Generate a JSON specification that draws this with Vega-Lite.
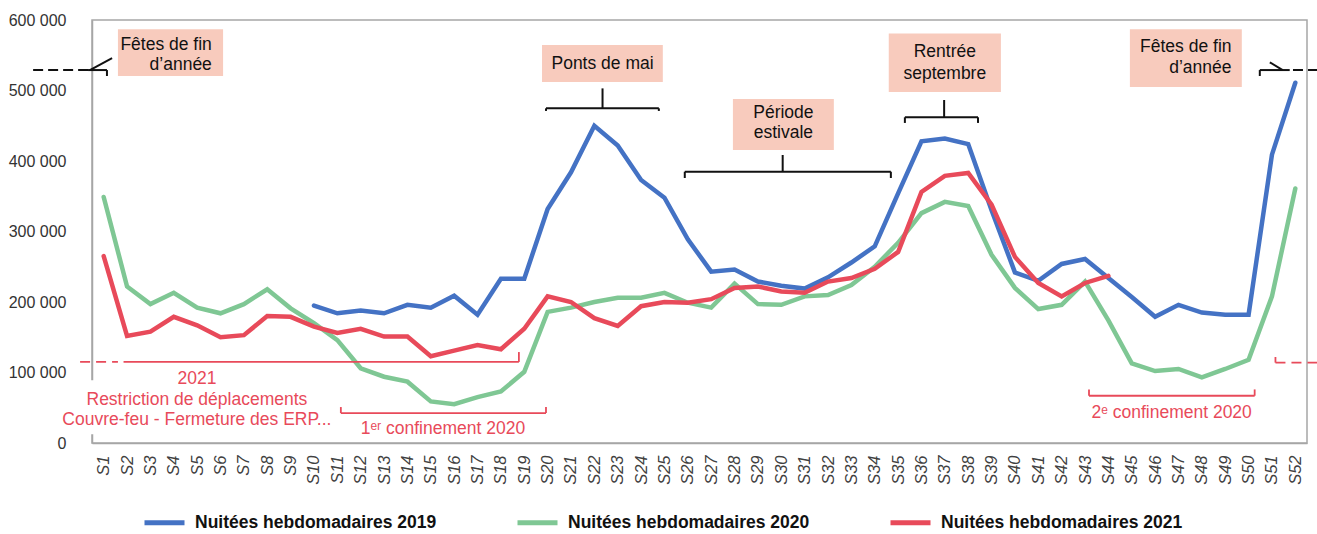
{
  "$schema": "https://vega.github.io/schema/vega-lite/v6.json",
  "width": 1215,
  "height": 423,
  "autosize": {"type": "none"},
  "padding": {"left": 92, "top": 20, "right": 10, "bottom": 91},
  "background": "white",
  "config": {
    "font": "Liberation Sans",
    "view": {"stroke": "#A6A6A6", "strokeWidth": 1.5}
  },
  "datasets": {
    "series": [
      {"week": 10, "serie": "Nuitées hebdomadaires 2019", "value": 195000},
      {"week": 11, "serie": "Nuitées hebdomadaires 2019", "value": 184000},
      {"week": 12, "serie": "Nuitées hebdomadaires 2019", "value": 188000},
      {"week": 13, "serie": "Nuitées hebdomadaires 2019", "value": 184000},
      {"week": 14, "serie": "Nuitées hebdomadaires 2019", "value": 196000},
      {"week": 15, "serie": "Nuitées hebdomadaires 2019", "value": 192000},
      {"week": 16, "serie": "Nuitées hebdomadaires 2019", "value": 209000},
      {"week": 17, "serie": "Nuitées hebdomadaires 2019", "value": 182000},
      {"week": 18, "serie": "Nuitées hebdomadaires 2019", "value": 233000},
      {"week": 19, "serie": "Nuitées hebdomadaires 2019", "value": 233000},
      {"week": 20, "serie": "Nuitées hebdomadaires 2019", "value": 332000},
      {"week": 21, "serie": "Nuitées hebdomadaires 2019", "value": 384000},
      {"week": 22, "serie": "Nuitées hebdomadaires 2019", "value": 450000},
      {"week": 23, "serie": "Nuitées hebdomadaires 2019", "value": 422000},
      {"week": 24, "serie": "Nuitées hebdomadaires 2019", "value": 373000},
      {"week": 25, "serie": "Nuitées hebdomadaires 2019", "value": 348000},
      {"week": 26, "serie": "Nuitées hebdomadaires 2019", "value": 289000},
      {"week": 27, "serie": "Nuitées hebdomadaires 2019", "value": 243000},
      {"week": 28, "serie": "Nuitées hebdomadaires 2019", "value": 246000},
      {"week": 29, "serie": "Nuitées hebdomadaires 2019", "value": 229000},
      {"week": 30, "serie": "Nuitées hebdomadaires 2019", "value": 223000},
      {"week": 31, "serie": "Nuitées hebdomadaires 2019", "value": 219000},
      {"week": 32, "serie": "Nuitées hebdomadaires 2019", "value": 235000},
      {"week": 33, "serie": "Nuitées hebdomadaires 2019", "value": 256000},
      {"week": 34, "serie": "Nuitées hebdomadaires 2019", "value": 279000},
      {"week": 35, "serie": "Nuitées hebdomadaires 2019", "value": 354000},
      {"week": 36, "serie": "Nuitées hebdomadaires 2019", "value": 428000},
      {"week": 37, "serie": "Nuitées hebdomadaires 2019", "value": 432000},
      {"week": 38, "serie": "Nuitées hebdomadaires 2019", "value": 424000},
      {"week": 39, "serie": "Nuitées hebdomadaires 2019", "value": 330000},
      {"week": 40, "serie": "Nuitées hebdomadaires 2019", "value": 242000},
      {"week": 41, "serie": "Nuitées hebdomadaires 2019", "value": 230000},
      {"week": 42, "serie": "Nuitées hebdomadaires 2019", "value": 254000},
      {"week": 43, "serie": "Nuitées hebdomadaires 2019", "value": 261000},
      {"week": 44, "serie": "Nuitées hebdomadaires 2019", "value": 234000},
      {"week": 45, "serie": "Nuitées hebdomadaires 2019", "value": 207000},
      {"week": 46, "serie": "Nuitées hebdomadaires 2019", "value": 179000},
      {"week": 47, "serie": "Nuitées hebdomadaires 2019", "value": 196000},
      {"week": 48, "serie": "Nuitées hebdomadaires 2019", "value": 185000},
      {"week": 49, "serie": "Nuitées hebdomadaires 2019", "value": 182000},
      {"week": 50, "serie": "Nuitées hebdomadaires 2019", "value": 182000},
      {"week": 51, "serie": "Nuitées hebdomadaires 2019", "value": 409000},
      {"week": 52, "serie": "Nuitées hebdomadaires 2019", "value": 511000},
      {"week": 1, "serie": "Nuitées hebdomadaires 2020", "value": 349000},
      {"week": 2, "serie": "Nuitées hebdomadaires 2020", "value": 222000},
      {"week": 3, "serie": "Nuitées hebdomadaires 2020", "value": 197000},
      {"week": 4, "serie": "Nuitées hebdomadaires 2020", "value": 213000},
      {"week": 5, "serie": "Nuitées hebdomadaires 2020", "value": 192000},
      {"week": 6, "serie": "Nuitées hebdomadaires 2020", "value": 184000},
      {"week": 7, "serie": "Nuitées hebdomadaires 2020", "value": 197000},
      {"week": 8, "serie": "Nuitées hebdomadaires 2020", "value": 218000},
      {"week": 9, "serie": "Nuitées hebdomadaires 2020", "value": 191000},
      {"week": 10, "serie": "Nuitées hebdomadaires 2020", "value": 170000},
      {"week": 11, "serie": "Nuitées hebdomadaires 2020", "value": 146000},
      {"week": 12, "serie": "Nuitées hebdomadaires 2020", "value": 106000},
      {"week": 13, "serie": "Nuitées hebdomadaires 2020", "value": 94000},
      {"week": 14, "serie": "Nuitées hebdomadaires 2020", "value": 87000},
      {"week": 15, "serie": "Nuitées hebdomadaires 2020", "value": 59000},
      {"week": 16, "serie": "Nuitées hebdomadaires 2020", "value": 55000},
      {"week": 17, "serie": "Nuitées hebdomadaires 2020", "value": 65000},
      {"week": 18, "serie": "Nuitées hebdomadaires 2020", "value": 73000},
      {"week": 19, "serie": "Nuitées hebdomadaires 2020", "value": 101000},
      {"week": 20, "serie": "Nuitées hebdomadaires 2020", "value": 186000},
      {"week": 21, "serie": "Nuitées hebdomadaires 2020", "value": 192000},
      {"week": 22, "serie": "Nuitées hebdomadaires 2020", "value": 200000},
      {"week": 23, "serie": "Nuitées hebdomadaires 2020", "value": 206000},
      {"week": 24, "serie": "Nuitées hebdomadaires 2020", "value": 206000},
      {"week": 25, "serie": "Nuitées hebdomadaires 2020", "value": 213000},
      {"week": 26, "serie": "Nuitées hebdomadaires 2020", "value": 199000},
      {"week": 27, "serie": "Nuitées hebdomadaires 2020", "value": 192000},
      {"week": 28, "serie": "Nuitées hebdomadaires 2020", "value": 226000},
      {"week": 29, "serie": "Nuitées hebdomadaires 2020", "value": 197000},
      {"week": 30, "serie": "Nuitées hebdomadaires 2020", "value": 196000},
      {"week": 31, "serie": "Nuitées hebdomadaires 2020", "value": 208000},
      {"week": 32, "serie": "Nuitées hebdomadaires 2020", "value": 210000},
      {"week": 33, "serie": "Nuitées hebdomadaires 2020", "value": 224000},
      {"week": 34, "serie": "Nuitées hebdomadaires 2020", "value": 250000},
      {"week": 35, "serie": "Nuitées hebdomadaires 2020", "value": 284000},
      {"week": 36, "serie": "Nuitées hebdomadaires 2020", "value": 326000},
      {"week": 37, "serie": "Nuitées hebdomadaires 2020", "value": 342000},
      {"week": 38, "serie": "Nuitées hebdomadaires 2020", "value": 336000},
      {"week": 39, "serie": "Nuitées hebdomadaires 2020", "value": 267000},
      {"week": 40, "serie": "Nuitées hebdomadaires 2020", "value": 220000},
      {"week": 41, "serie": "Nuitées hebdomadaires 2020", "value": 190000},
      {"week": 42, "serie": "Nuitées hebdomadaires 2020", "value": 196000},
      {"week": 43, "serie": "Nuitées hebdomadaires 2020", "value": 229000},
      {"week": 44, "serie": "Nuitées hebdomadaires 2020", "value": 174000},
      {"week": 45, "serie": "Nuitées hebdomadaires 2020", "value": 113000},
      {"week": 46, "serie": "Nuitées hebdomadaires 2020", "value": 102000},
      {"week": 47, "serie": "Nuitées hebdomadaires 2020", "value": 105000},
      {"week": 48, "serie": "Nuitées hebdomadaires 2020", "value": 93000},
      {"week": 49, "serie": "Nuitées hebdomadaires 2020", "value": 105000},
      {"week": 50, "serie": "Nuitées hebdomadaires 2020", "value": 118000},
      {"week": 51, "serie": "Nuitées hebdomadaires 2020", "value": 208000},
      {"week": 52, "serie": "Nuitées hebdomadaires 2020", "value": 361000},
      {"week": 1, "serie": "Nuitées hebdomadaires 2021", "value": 265000},
      {"week": 2, "serie": "Nuitées hebdomadaires 2021", "value": 152000},
      {"week": 3, "serie": "Nuitées hebdomadaires 2021", "value": 158000},
      {"week": 4, "serie": "Nuitées hebdomadaires 2021", "value": 179000},
      {"week": 5, "serie": "Nuitées hebdomadaires 2021", "value": 167000},
      {"week": 6, "serie": "Nuitées hebdomadaires 2021", "value": 150000},
      {"week": 7, "serie": "Nuitées hebdomadaires 2021", "value": 153000},
      {"week": 8, "serie": "Nuitées hebdomadaires 2021", "value": 180000},
      {"week": 9, "serie": "Nuitées hebdomadaires 2021", "value": 179000},
      {"week": 10, "serie": "Nuitées hebdomadaires 2021", "value": 165000},
      {"week": 11, "serie": "Nuitées hebdomadaires 2021", "value": 156000},
      {"week": 12, "serie": "Nuitées hebdomadaires 2021", "value": 162000},
      {"week": 13, "serie": "Nuitées hebdomadaires 2021", "value": 151000},
      {"week": 14, "serie": "Nuitées hebdomadaires 2021", "value": 151000},
      {"week": 15, "serie": "Nuitées hebdomadaires 2021", "value": 123000},
      {"week": 16, "serie": "Nuitées hebdomadaires 2021", "value": 131000},
      {"week": 17, "serie": "Nuitées hebdomadaires 2021", "value": 139000},
      {"week": 18, "serie": "Nuitées hebdomadaires 2021", "value": 133000},
      {"week": 19, "serie": "Nuitées hebdomadaires 2021", "value": 162000},
      {"week": 20, "serie": "Nuitées hebdomadaires 2021", "value": 208000},
      {"week": 21, "serie": "Nuitées hebdomadaires 2021", "value": 200000},
      {"week": 22, "serie": "Nuitées hebdomadaires 2021", "value": 177000},
      {"week": 23, "serie": "Nuitées hebdomadaires 2021", "value": 166000},
      {"week": 24, "serie": "Nuitées hebdomadaires 2021", "value": 194000},
      {"week": 25, "serie": "Nuitées hebdomadaires 2021", "value": 200000},
      {"week": 26, "serie": "Nuitées hebdomadaires 2021", "value": 199000},
      {"week": 27, "serie": "Nuitées hebdomadaires 2021", "value": 204000},
      {"week": 28, "serie": "Nuitées hebdomadaires 2021", "value": 220000},
      {"week": 29, "serie": "Nuitées hebdomadaires 2021", "value": 222000},
      {"week": 30, "serie": "Nuitées hebdomadaires 2021", "value": 215000},
      {"week": 31, "serie": "Nuitées hebdomadaires 2021", "value": 213000},
      {"week": 32, "serie": "Nuitées hebdomadaires 2021", "value": 229000},
      {"week": 33, "serie": "Nuitées hebdomadaires 2021", "value": 234000},
      {"week": 34, "serie": "Nuitées hebdomadaires 2021", "value": 247000},
      {"week": 35, "serie": "Nuitées hebdomadaires 2021", "value": 271000},
      {"week": 36, "serie": "Nuitées hebdomadaires 2021", "value": 356000},
      {"week": 37, "serie": "Nuitées hebdomadaires 2021", "value": 379000},
      {"week": 38, "serie": "Nuitées hebdomadaires 2021", "value": 383000},
      {"week": 39, "serie": "Nuitées hebdomadaires 2021", "value": 338000},
      {"week": 40, "serie": "Nuitées hebdomadaires 2021", "value": 264000},
      {"week": 41, "serie": "Nuitées hebdomadaires 2021", "value": 227000},
      {"week": 42, "serie": "Nuitées hebdomadaires 2021", "value": 208000},
      {"week": 43, "serie": "Nuitées hebdomadaires 2021", "value": 227000},
      {"week": 44, "serie": "Nuitées hebdomadaires 2021", "value": 237000}
    ],
    "whitebox": [{"week": 0.0, "week2": 10.9, "value": 12500, "value2": 89000}],
    "boxes": [
      {"week": 1.61, "week2": 6.11, "value": 520600, "value2": 587000},
      {"week": 19.76, "week2": 24.93, "value": 512000, "value2": 564500},
      {"week": 27.93, "week2": 32.25, "value": 415600, "value2": 488000},
      {"week": 34.6, "week2": 39.4, "value": 498000, "value2": 581000},
      {"week": 44.92, "week2": 49.71, "value": 505000, "value2": 587000}
    ],
    "blackSolid": [
      {"week": 19.93, "week2": 24.76, "value": 474700, "value2": 474700},
      {"week": 19.93, "week2": 19.93, "value": 474700, "value2": 471000},
      {"week": 24.76, "week2": 24.76, "value": 474700, "value2": 471000},
      {"week": 22.35, "week2": 22.35, "value": 474700, "value2": 503000},
      {"week": 25.87, "week2": 34.69, "value": 384800, "value2": 384800},
      {"week": 25.87, "week2": 25.87, "value": 384800, "value2": 375900},
      {"week": 34.69, "week2": 34.69, "value": 384800, "value2": 375900},
      {"week": 30.06, "week2": 30.06, "value": 384800, "value2": 408500},
      {"week": 35.29, "week2": 38.42, "value": 462000, "value2": 462000},
      {"week": 35.29, "week2": 35.29, "value": 462000, "value2": 454000},
      {"week": 38.42, "week2": 38.42, "value": 462000, "value2": 454000},
      {"week": 36.97, "week2": 36.97, "value": 462000, "value2": 486500},
      {"week": 0.33, "week2": 1.14, "value": 529000, "value2": 529000},
      {"week": 1.14, "week2": 1.14, "value": 529000, "value2": 520600},
      {"week": 0.41, "week2": 1.36, "value": 529000, "value2": 546000},
      {"week": 50.48, "week2": 51.76, "value": 529000, "value2": 529000},
      {"week": 50.48, "week2": 50.48, "value": 529000, "value2": 520600},
      {"week": 50.91, "week2": 51.46, "value": 540000, "value2": 529000}
    ],
    "blackDashed": [
      {"week": -2.02, "week2": 0.33, "value": 529000, "value2": 529000},
      {"week": 51.9, "week2": 52.93, "value": 529000, "value2": 529000}
    ],
    "redSolid": [
      {"week": 1.85, "week2": 18.77, "value": 115000, "value2": 115000},
      {"week": 18.77, "week2": 18.77, "value": 115000, "value2": 129000},
      {"week": 11.15, "week2": 19.93, "value": 42500, "value2": 42500},
      {"week": 11.15, "week2": 11.15, "value": 42500, "value2": 51000},
      {"week": 19.93, "week2": 19.93, "value": 42500, "value2": 51000},
      {"week": 43.17, "week2": 50.26, "value": 67000, "value2": 67000},
      {"week": 43.17, "week2": 43.17, "value": 67000, "value2": 76000},
      {"week": 50.26, "week2": 50.26, "value": 67000, "value2": 76000},
      {"week": 51.15, "week2": 51.15, "value": 114000, "value2": 122000}
    ],
    "redDashed": [
      {"week": -0.01, "week2": 1.61, "value": 115000, "value2": 115000},
      {"week": 51.15, "week2": 52.93, "value": 114000, "value2": 114000}
    ],
    "boxTextCenter": [
      {"week": 22.35, "value": 537600, "t": "Ponts de mai"},
      {"week": 30.09, "value": 468000, "t": "Période"},
      {"week": 30.09, "value": 439700, "t": "estivale"},
      {"week": 37.0, "value": 555000, "t": "Rentrée"},
      {"week": 37.0, "value": 524000, "t": "septembre"}
    ],
    "boxTextRight": [
      {"week": 5.63, "value": 565000, "t": "Fêtes de fin"},
      {"week": 5.63, "value": 536000, "t": "d’année"},
      {"week": 49.27, "value": 562000, "t": "Fêtes de fin"},
      {"week": 49.27, "value": 531500, "t": "d’année"}
    ],
    "redText": [
      {"week": 4.99, "value": 90400, "t": "2021"},
      {"week": 4.99, "value": 61000, "t": "Restriction de déplacements"},
      {"week": 4.99, "value": 32600, "t": "Couvre-feu - Fermeture des ERP..."},
      {"week": 15.52, "value": 20500, "t": "1ᵉʳ confinement 2020"},
      {"week": 46.71, "value": 43000, "t": "2ᵉ confinement 2020"}
    ]
  },
  "encoding": {
    "x": {
      "field": "week", "type": "quantitative",
      "scale": {"domain": [0.5, 52.5], "nice": false, "zero": false},
      "axis": {
        "title": null,
        "values": [1,2,3,4,5,6,7,8,9,10,11,12,13,14,15,16,17,18,19,20,21,22,23,24,25,26,27,28,29,30,31,32,33,34,35,36,37,38,39,40,41,42,43,44,45,46,47,48,49,50,51,52],
        "labelExpr": "'S' + datum.value",
        "labelAngle": -90,
        "labelFontStyle": "italic",
        "labelFontSize": 16.5,
        "labelColor": "#404040",
        "labelPadding": 12,
        "labelOverlap": false,
        "labelFlush": false,
        "labelBound": false,
        "ticks": false,
        "grid": false,
        "domainColor": "#A6A6A6",
        "domainWidth": 1.5
      }
    },
    "y": {
      "field": "value", "type": "quantitative",
      "scale": {"domain": [0, 600000], "nice": false},
      "axis": {
        "title": null,
        "values": [0, 100000, 200000, 300000, 400000, 500000, 600000],
        "labelExpr": "datum.value == 0 ? '0' : format(datum.value / 1000, 'd') + ' 000'",
        "labelFontSize": 16,
        "labelColor": "#333333",
        "labelPadding": 26,
        "ticks": false,
        "grid": false,
        "domainColor": "#A6A6A6",
        "domainWidth": 1.5
      }
    }
  },
  "layer": [
    {
      "data": {"name": "series"},
      "mark": {"type": "line", "strokeWidth": 4.5, "strokeCap": "round", "strokeJoin": "miter"},
      "encoding": {
        "color": {
          "field": "serie", "type": "nominal",
          "scale": {
            "domain": ["Nuitées hebdomadaires 2019", "Nuitées hebdomadaires 2020", "Nuitées hebdomadaires 2021"],
            "range": ["#4472C4", "#7FC794", "#E84A5A"]
          },
          "legend": {
            "title": null,
            "orient": "none",
            "legendX": 50,
            "legendY": 480,
            "direction": "horizontal",
            "columnPadding": 70,
            "labelOffset": 8,
            "labelFont": "Liberation Sans",
            "labelFontSize": 17.5,
            "labelFontWeight": "bold",
            "labelColor": "#111111",
            "labelLimit": 400,
            "symbolType": "stroke",
            "symbolSize": 1600,
            "symbolStrokeWidth": 5,
            "padding": 0
          }
        }
      }
    },
    {
      "data": {"name": "whitebox"},
      "mark": {"type": "rect", "fill": "white"},
      "encoding": {"x2": {"field": "week2"}, "y2": {"field": "value2"}}
    },
    {
      "data": {"name": "boxes"},
      "mark": {"type": "rect", "fill": "#F8CBBD"},
      "encoding": {"x2": {"field": "week2"}, "y2": {"field": "value2"}}
    },
    {
      "data": {"name": "blackSolid"},
      "mark": {"type": "rule", "color": "#111111", "strokeWidth": 2},
      "encoding": {"x2": {"field": "week2"}, "y2": {"field": "value2"}}
    },
    {
      "data": {"name": "blackDashed"},
      "mark": {"type": "rule", "color": "#111111", "strokeWidth": 2, "strokeDash": [10, 5]},
      "encoding": {"x2": {"field": "week2"}, "y2": {"field": "value2"}}
    },
    {
      "data": {"name": "redSolid"},
      "mark": {"type": "rule", "color": "#E84A5A", "strokeWidth": 1.8},
      "encoding": {"x2": {"field": "week2"}, "y2": {"field": "value2"}}
    },
    {
      "data": {"name": "redDashed"},
      "mark": {"type": "rule", "color": "#E84A5A", "strokeWidth": 1.8, "strokeDash": [10, 6]},
      "encoding": {"x2": {"field": "week2"}, "y2": {"field": "value2"}}
    },
    {
      "data": {"name": "boxTextCenter"},
      "mark": {"type": "text", "align": "center", "baseline": "middle", "fontSize": 17.5, "color": "#111111"},
      "encoding": {"text": {"field": "t"}}
    },
    {
      "data": {"name": "boxTextRight"},
      "mark": {"type": "text", "align": "right", "baseline": "middle", "fontSize": 17.5, "color": "#111111"},
      "encoding": {"text": {"field": "t"}}
    },
    {
      "data": {"name": "redText"},
      "mark": {"type": "text", "align": "center", "baseline": "middle", "fontSize": 17.5, "color": "#E84A5A"},
      "encoding": {"text": {"field": "t"}}
    }
  ]
}
